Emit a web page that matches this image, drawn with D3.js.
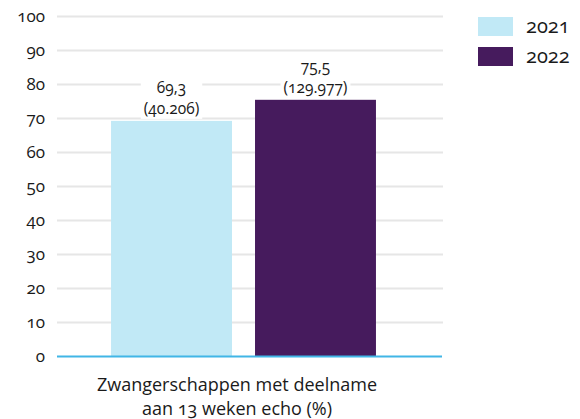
<!DOCTYPE html>
<meta charset="utf-8">
<style>
body { margin: 0; background: #fff; }
svg text { font-family: "Open Sans", Lato, sans-serif; fill: #1a1a1a; font-feature-settings: "onum" 1; font-variant-numeric: oldstyle-nums; }
.grid line { stroke: #e6e6e6; stroke-width: 2px; }
</style>
<body>
<script src="https://cdn.jsdelivr.net/npm/d3@7"></script>
<script>

// data
var categories = ["Zwangerschappen met deelname aan 13 weken echo (%)"];
var years = ["2021", "2022"];
var values = [69.3, 75.5];
var counts = ["40.206", "129.977"];
var valueLabels = ["69,3", "75,5"];
var yTicks = [0, 10, 20, 30, 40, 50, 60, 70, 80, 90, 100];
var colors = ["#c1e9f6", "#461b5d"];

var width = 580, height = 419;

var svg = d3.select("body").append("svg")
    .attr("width", width)
    .attr("height", height);

// scales
var y = d3.scaleLinear().domain([0, 100]).range([356.5, 16.5]);
var x0 = d3.scaleBand().domain(categories).range([57, 430]).paddingInner(0).paddingOuter(0.204);
var x1 = d3.scaleBand().domain(years).range([0, x0.bandwidth()]).paddingInner(0.16);

// gridlines
svg.append("g")
    .attr("class", "grid")
  .selectAll("line")
  .data(yTicks.filter(function(d) { return d > 0; }))
  .enter().append("line")
    .attr("x1", 57).attr("x2", 443)
    .attr("y1", function(d) { return y(d); })
    .attr("y2", function(d) { return y(d); });

// y axis labels
svg.append("g")
  .selectAll("text")
  .data(yTicks)
  .enter().append("text")
    .attr("x", 45)
    .attr("y", function(d) { return y(d); })
    .attr("dy", "0.3em")
    .attr("text-anchor", "end")
    .style("font-size", "17px")
    .text(function(d) { return d; });

// bars
var g = svg.append("g").attr("transform", "translate(" + x0(categories[0]) + ",0)");
g.selectAll("rect")
  .data(values)
  .enter().append("rect")
    .attr("x", function(d, i) { return x1(years[i]); })
    .attr("width", x1.bandwidth())
    .attr("y", function(d) { return y(d); })
    .attr("height", function(d) { return y(0) - y(d); })
    .attr("fill", function(d, i) { return colors[i]; });

// baseline
svg.append("line")
    .attr("x1", 57).attr("x2", 442)
    .attr("y1", y(0)).attr("y2", y(0))
    .attr("stroke", "#41b6e6")
    .attr("stroke-width", 2);

// value labels with white backing
values.forEach(function(v, i) {
  var cx = x0(categories[0]) + x1(years[i]) + x1.bandwidth() / 2;
  var top = y(v);
  var lg = svg.append("g");
  var bg = lg.append("rect").attr("fill", "#fff");
  var t = lg.append("text")
      .attr("text-anchor", "middle")
      .style("font-size", "15.5px");
  t.append("tspan").attr("x", cx).attr("y", top - 28).text(valueLabels[i]);
  t.append("tspan").attr("x", cx).attr("y", top - 7).text("(" + counts[i] + ")");
  var bb = t.node().getBBox();
  bg.attr("x", bb.x - 3).attr("y", bb.y).attr("width", bb.width + 6).attr("height", bb.height);
});

// x label
var xl = svg.append("text")
    .attr("text-anchor", "middle")
    .style("font-size", "18px");
xl.append("tspan").attr("x", 237).attr("y", 391).text("Zwangerschappen met deelname");
xl.append("tspan").attr("x", 237).attr("y", 415).text("aan 13 weken echo (%)");

// legend
var leg = svg.append("g").selectAll("g")
  .data(years)
  .enter().append("g")
    .attr("transform", function(d, i) { return "translate(478," + (17 + i * 30) + ")"; });
leg.append("rect")
    .attr("width", 35).attr("height", 19)
    .attr("fill", function(d, i) { return colors[i]; });
leg.append("text")
    .attr("x", 48).attr("y", 10)
    .attr("dy", "0.3em")
    .style("font-size", "20px")
    .text(function(d) { return d; });

</script>
</body>
